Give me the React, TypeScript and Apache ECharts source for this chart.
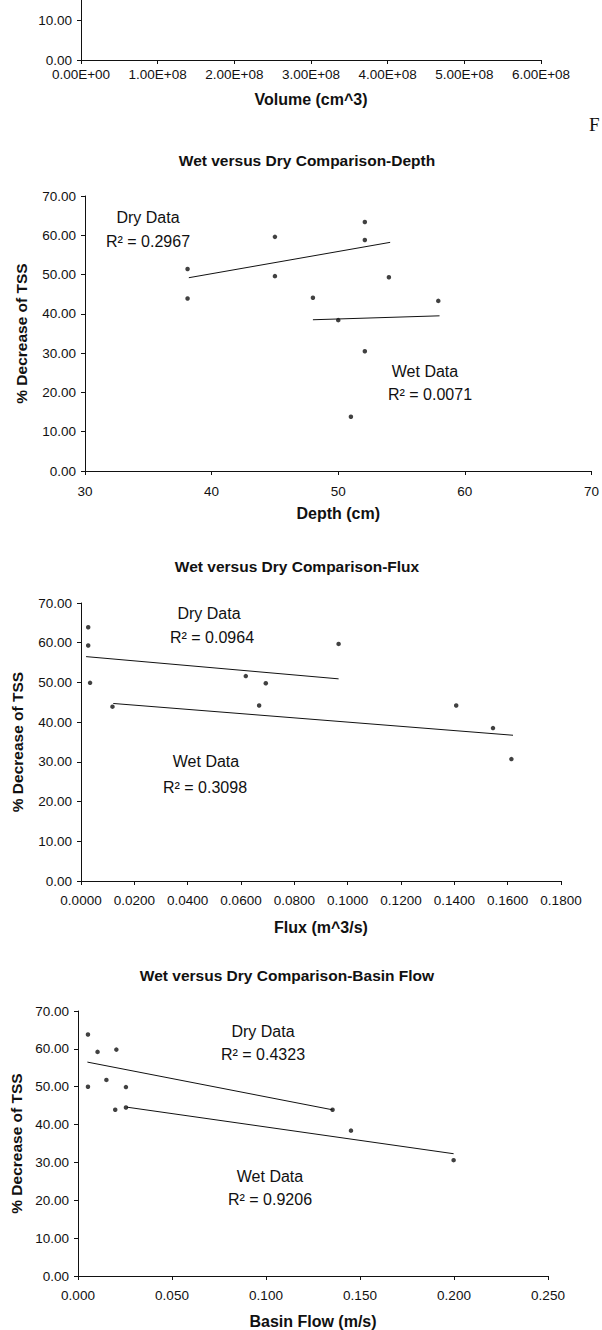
import React, { useEffect, useRef } from "react";
import * as echarts from "echarts";

// ---- tick values ----
const pctTicks = [0, 10, 20, 30, 40, 50, 60, 70];
const volumeYTicks = [0, 10];
const volumeXTicks = [0, 1e8, 2e8, 3e8, 4e8, 5e8, 6e8];
const depthXTicks = [30, 40, 50, 60, 70];
const fluxXTicks = [0, 0.02, 0.04, 0.06, 0.08, 0.1, 0.12, 0.14, 0.16, 0.18];
const basinXTicks = [0, 0.05, 0.1, 0.15, 0.2, 0.25];

// ---- Depth ----
const depthDry = [[38.1, 51.4], [38.1, 43.9], [45.0, 59.6], [45.0, 49.6], [52.1, 63.4], [54.0, 49.3]];
const depthWet = [[48.0, 44.1], [50.0, 38.4], [51.0, 13.8], [52.1, 30.5], [52.1, 58.8], [57.9, 43.3]];
const depthDryTrend = [[38.2, 49.2], [54.1, 58.2]];
const depthWetTrend = [[48.0, 38.5], [58.0, 39.5]];

// ---- Flux ----
const fluxDry = [[0.0027, 63.9], [0.0027, 59.3], [0.0034, 49.9], [0.0618, 51.6], [0.0693, 49.8], [0.0966, 59.7]];
const fluxWet = [[0.0118, 43.9], [0.0668, 44.2], [0.1407, 44.2], [0.1545, 38.5], [0.1614, 30.7]];
const fluxDryTrend = [[0.0019, 56.5], [0.0966, 50.9]];
const fluxWetTrend = [[0.0121, 44.7], [0.162, 36.7]];

// ---- Basin flow ----
const basinDry = [[0.0053, 63.8], [0.0104, 59.2], [0.0204, 59.8], [0.0053, 50.0], [0.0151, 51.8], [0.0198, 43.9], [0.1354, 43.9]];
const basinWet = [[0.0255, 49.9], [0.0255, 44.5], [0.1452, 38.4], [0.1998, 30.6]];
const basinDryTrend = [[0.005, 56.5], [0.1354, 43.9]];
const basinWetTrend = [[0.026, 44.6], [0.1998, 32.3]];

// ---- texts ----
const titles = ["Wet versus Dry Comparison-Depth", "Wet versus Dry Comparison-Flux", "Wet versus Dry Comparison-Basin Flow"];
const rLabels = [
  ["Dry Data", "R\u00b2 = 0.2967", "Wet Data", "R\u00b2 = 0.0071"],
  ["Dry Data", "R\u00b2 = 0.0964", "Wet Data", "R\u00b2 = 0.3098"],
  ["Dry Data", "R\u00b2 = 0.4323", "Wet Data", "R\u00b2 = 0.9206"],
];

const FONT = '"Liberation Sans", Arial, sans-serif';
const BLACK = "#111";

const sci = (v: number) => {
  const [m, e] = v.toExponential(2).split("e");
  const sign = e[0] === "-" ? "-" : "+";
  const d = e.replace(/^[+-]/, "").padStart(2, "0");
  return `${m}E${sign}${d}`;
};

function App() {
  const ref = useRef<HTMLDivElement>(null);
  useEffect(() => {
    if (!ref.current) return;
    const chart = echarts.init(ref.current, undefined, { renderer: "svg" });

    const axisCommon = {
      axisLine: { show: true, lineStyle: { color: BLACK, width: 1 } },
      axisTick: { show: true, length: 4, lineStyle: { color: BLACK } },
      splitLine: { show: false },
    };
    const xAx = (grid: number, ticks: number[], fmt: (v: number) => string, name: string, gap: number, margin: number) => ({
      type: "value",
      gridIndex: grid,
      min: ticks[0],
      max: ticks[ticks.length - 1],
      interval: ticks[1] - ticks[0],
      ...axisCommon,
      axisLabel: { color: BLACK, fontFamily: FONT, fontSize: 13.5, margin, formatter: fmt },
      name,
      nameLocation: "middle",
      nameGap: gap,
      nameTextStyle: { color: BLACK, fontFamily: FONT, fontSize: 16, fontWeight: "bold" },
    });
    const yAx = (grid: number, name: string, gap: number) => ({
      type: "value",
      gridIndex: grid,
      min: pctTicks[0],
      max: pctTicks[pctTicks.length - 1],
      interval: pctTicks[1] - pctTicks[0],
      ...axisCommon,
      axisLabel: { color: BLACK, fontFamily: FONT, fontSize: 13.5, margin: 9, formatter: (v: number) => v.toFixed(2) },
      name,
      nameLocation: "middle",
      nameGap: gap,
      nameTextStyle: { color: BLACK, fontFamily: FONT, fontSize: 15.5, fontWeight: "bold" },
    });

    const pts = (i: number, data: number[][]) => ({
      type: "scatter",
      xAxisIndex: i,
      yAxisIndex: i,
      data,
      symbol: "circle",
      symbolSize: 4.5,
      itemStyle: { color: BLACK },
      silent: true,
    });
    const trend = (i: number, data: number[][]) => ({
      type: "line",
      xAxisIndex: i,
      yAxisIndex: i,
      data,
      showSymbol: false,
      symbol: "none",
      lineStyle: { color: BLACK, width: 1 },
      silent: true,
    });

    const txt = (x: number, y: number, text: string, size: number, bold = false, align = "center", family = FONT) => ({
      type: "text",
      x,
      y,
      silent: true,
      style: {
        text,
        fill: BLACK,
        font: `${bold ? "bold " : ""}${size}px ${family}`,
        textAlign: align,
        textVerticalAlign: "middle",
      },
    });

    const annPos = [
      [[148, 217], [148, 241], [425, 371], [430, 394]],
      [[209, 613], [212, 637], [206, 761], [205, 787]],
      [[263, 1031], [263, 1054], [270, 1176], [270, 1199]],
    ];
    const titlePos = [[307, 160], [297, 566], [287, 975]];

    const graphics: any[] = [];
    titles.forEach((t, i) => graphics.push(txt(titlePos[i][0], titlePos[i][1], t, 15.5, true)));
    rLabels.forEach((arr, i) =>
      arr.forEach((t, j) => graphics.push(txt(annPos[i][j][0], annPos[i][j][1], t, 16)))
    );
    graphics.push(txt(589, 124, "F", 19, false, "left", '"Liberation Serif", serif'));

    // top (cut-off) chart: only its lowest 15 units are inside the picture
    const volumeY = {
      type: "value",
      gridIndex: 0,
      min: 0,
      max: 15,
      ...axisCommon,
      axisTick: { show: true, length: 4, lineStyle: { color: BLACK }, customValues: volumeYTicks },
      axisLabel: {
        color: BLACK, fontFamily: FONT, fontSize: 13.5, margin: 9,
        customValues: volumeYTicks,
        formatter: (v: number) => v.toFixed(2),
      },
    };

    chart.setOption({
      animation: false,
      backgroundColor: "#fff",
      grid: [
        { left: 81, top: 0, width: 460, height: 60 },
        { left: 85, top: 196, width: 510, height: 275 },
        { left: 81, top: 603, width: 480, height: 278 },
        { left: 78, top: 1011, width: 470, height: 266 },
      ],
      xAxis: [
        xAx(0, volumeXTicks, sci, "Volume (cm^3)", 31, 7),
        xAx(1, depthXTicks, (v: number) => String(v), "Depth (cm)", 34, 13),
        xAx(2, fluxXTicks, (v: number) => v.toFixed(4), "Flux (m^3/s)", 38, 12),
        xAx(3, basinXTicks, (v: number) => v.toFixed(3), "Basin Flow (m/s)", 37, 12),
      ],
      yAxis: [
        volumeY,
        yAx(1, "% Decrease of TSS", 56),
        yAx(2, "% Decrease of TSS", 56),
        yAx(3, "% Decrease of TSS", 53),
      ],
      series: [
        pts(1, depthDry), pts(1, depthWet), trend(1, depthDryTrend), trend(1, depthWetTrend),
        pts(2, fluxDry), pts(2, fluxWet), trend(2, fluxDryTrend), trend(2, fluxWetTrend),
        pts(3, basinDry), pts(3, basinWet), trend(3, basinDryTrend), trend(3, basinWetTrend),
      ],
      graphic: graphics,
    });
    return () => chart.dispose();
  }, []);
  return (
    <div
      ref={ref}
      style={{ position: "absolute", left: 0, top: 0, width: 602, height: 1330, background: "#fff" }}
    />
  );
}

export default App;
